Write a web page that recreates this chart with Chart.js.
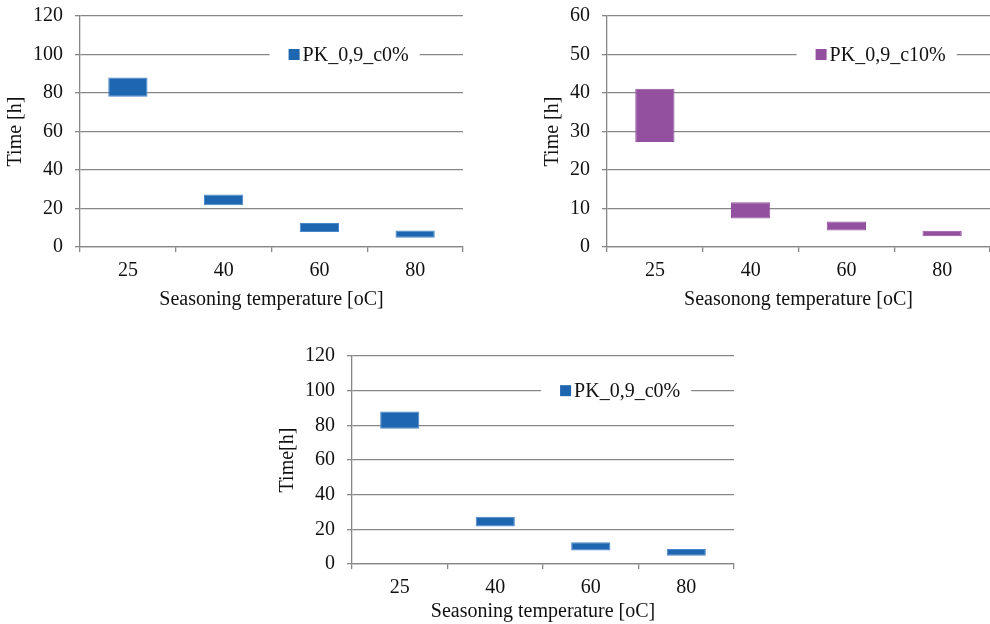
<!DOCTYPE html>
<html>
<head>
<meta charset="utf-8">
<script src="https://cdn.jsdelivr.net/npm/chart.js@4.4.1/dist/chart.umd.min.js"></script>
<style>
  body { margin: 0; background: #fff; }
  .box { position: absolute; }
</style>
</head>
<body>
<div class="box" style="left:0;top:0;width:470px;height:320px"><canvas id="c1"></canvas></div>
<div class="box" style="left:520px;top:0;width:470px;height:320px"><canvas id="c2"></canvas></div>
<div class="box" style="left:270px;top:340px;width:470px;height:284px"><canvas id="c3"></canvas></div>
<script>
// seasoning temperatures (categories)
const temps = ['25', '40', '60', '80'];

// PK_0,9_c0% : time range [h]
const c0Low  = [78, 21.7, 7.8, 4.8];
const c0High = [88, 27.3, 12.5, 8.6];

// PK_0,9_c10% : time range [h]
const c10Low  = [27.3, 7.4, 4.3, 2.8];
const c10High = [41.1, 11.6, 6.6, 4.2];

const ticks120 = { min: 0, max: 120, step: 20 };
const ticks60 = { min: 0, max: 60, step: 10 };

const gridCol = '#878787';
const font = { family: '"Liberation Serif", "Times New Roman", serif', size: 20 };

// legend sitting inside the plot, on a gridline, with white background
const inLegend = {
  id: 'inLegend',
  afterDatasetsDraw(chart, args, opts) {
    const ctx = chart.ctx;
    const area = chart.chartArea;
    const y = chart.scales.y.getPixelForValue(opts.at);
    ctx.save();
    ctx.font = font.size + 'px ' + font.family;
    const tw = ctx.measureText(opts.text).width;
    const x0 = area.left + 0.495 * (area.right - area.left);
    const w = 19 + 11 + 3 + tw + 11;
    ctx.fillStyle = '#fff';
    ctx.fillRect(x0, y - 12, w, 24);
    ctx.fillStyle = opts.color;
    ctx.fillRect(x0 + 19, y - 5.5, 11, 11);
    ctx.fillStyle = '#111';
    ctx.textBaseline = 'middle';
    ctx.textAlign = 'left';
    ctx.fillText(opts.text, x0 + 33, y + 1);
    ctx.restore();
  }
};

function makeChart(id, o) {
  const data = temps.map((t, i) => [o.low[i], o.high[i]]);
  return new Chart(document.getElementById(id), {
    type: 'bar',
    data: {
      labels: temps,
      datasets: [{
        label: o.label,
        data: data,
        backgroundColor: o.color,
        borderColor: o.border,
        borderWidth: 1,
        borderSkipped: false,
        categoryPercentage: 1,
        barPercentage: 0.41
      }]
    },
    options: {
      responsive: true,
      maintainAspectRatio: false,
      animation: false,
      layout: { padding: { top: 16, right: o.padRight, left: 0, bottom: 0 } },
      plugins: {
        legend: { display: false },
        tooltip: { enabled: false },
        inLegend: { text: o.label, color: o.color, at: o.legendAt }
      },
      scales: {
        x: {
          offset: true,
          grid: { offset: true, drawOnChartArea: false, drawTicks: true, tickLength: 5, color: gridCol, lineWidth: 1.3 },
          border: { color: gridCol, width: 1.3 },
          ticks: { color: '#111', font: font, padding: 7 },
          title: { display: true, text: o.xTitle, color: '#111', font: font, padding: { top: 0, bottom: o.xTitlePad } },
          afterFit: s => { s.height = o.xHeight; s.paddingLeft = 0; s.paddingRight = 0; }
        },
        y: {
          min: o.ticks.min,
          max: o.ticks.max,
          ticks: { stepSize: o.ticks.step, color: '#111', font: font, padding: 12 },
          grid: { color: gridCol, lineWidth: 1.3, tickLength: 5 },
          border: { color: gridCol, width: 1.3 },
          title: { display: true, text: o.yTitle, color: '#111', font: font, padding: { top: o.yTitlePad, bottom: 0 } },
          afterFit: s => { s.width = o.yWidth; s.paddingTop = 0; s.paddingBottom = 0; }
        }
      }
    },
    plugins: [inLegend]
  });
}

makeChart('c1', {
  label: 'PK_0,9_c0%', color: '#1f66b1', border: '#4a86c9',
  low: c0Low, high: c0High, ticks: ticks120, legendAt: 100,
  xTitle: 'Seasoning temperature [oC]', yTitle: 'Time [h]',
  yWidth: 80, xHeight: 73, padRight: 7, xTitlePad: 8, yTitlePad: 4
});

makeChart('c2', {
  label: 'PK_0,9_c10%', color: '#93509f', border: '#93509f',
  low: c10Low, high: c10High, ticks: ticks60, legendAt: 50,
  xTitle: 'Seasonong temperature [oC]', yTitle: 'Time [h]',
  yWidth: 87, xHeight: 73, padRight: 0, xTitlePad: 8, yTitlePad: 21
});

makeChart('c3', {
  label: 'PK_0,9_c0%', color: '#1f66b1', border: '#4a86c9',
  low: c0Low, high: c0High, ticks: ticks120, legendAt: 100,
  xTitle: 'Seasoning temperature [oC]', yTitle: 'Time[h]',
  yWidth: 82, xHeight: 60, padRight: 6, xTitlePad: 0, yTitlePad: 6
});
</script>
</body>
</html>
